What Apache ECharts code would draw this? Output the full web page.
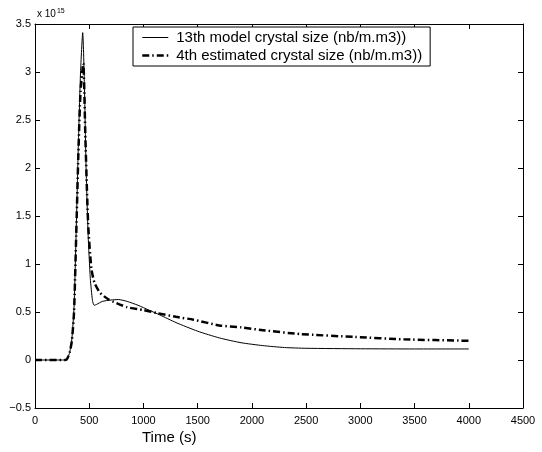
<!DOCTYPE html>
<html>
<head>
<meta charset="utf-8">
<script src="https://cdn.jsdelivr.net/npm/echarts@6/dist/echarts.min.js"></script>
<style>
html, body { margin: 0; padding: 0; background: #fff; }
#chart_1 { width: 542px; height: 452px; }
</style>
</head>
<body>
<div id="chart_1"></div>
<script>
// 数据 (单位 1e15)
var modelTime = [0, 280, 300, 320, 340, 360, 380, 400, 420, 440, 455, 470, 490, 510, 530, 545, 570, 620, 700, 770, 850, 950, 1050, 1150, 1300, 1500, 1700, 1900, 2100, 2300, 2500, 3000, 3500, 4000];
var modelSize = [0, 0, 0.02, 0.08, 0.22, 0.55, 1.35, 2.25, 3.0, 3.41, 2.9, 2.05, 1.3, 0.85, 0.62, 0.57, 0.58, 0.61, 0.625, 0.63, 0.61, 0.57, 0.52, 0.47, 0.39, 0.3, 0.23, 0.18, 0.15, 0.13, 0.122, 0.117, 0.115, 0.115];

var estTime = [0, 280, 300, 320, 340, 360, 380, 400, 420, 445, 465, 490, 520, 550, 600, 680, 850, 1000, 1120, 1300, 1460, 1700, 1900, 2100, 2450, 2950, 3400, 4000];
var estSize = [0, 0, 0.02, 0.08, 0.2, 0.5, 1.3, 2.15, 2.8, 3.09, 2.3, 1.42, 0.95, 0.8, 0.7, 0.63, 0.55, 0.52, 0.49, 0.45, 0.42, 0.36, 0.34, 0.31, 0.27, 0.24, 0.215, 0.2];

var xTicks = [0, 500, 1000, 1500, 2000, 2500, 3000, 3500, 4000, 4500];
var yTicks = [-0.5, 0, 0.5, 1, 1.5, 2, 2.5, 3, 3.5];

var modelName = '13th model crystal size (nb/m.m3))';
var estName = '4th estimated crystal size (nb/m.m3))';

function pairs(xs, ys) {
	var out = [];
	for (var i = 0; i < xs.length; i++) {
		out.push([xs[i], ys[i]]);
	}
	return out;
}

function fmtY(v) {
	return String(v).replace('-', '\u2212');
}

function fmtX(v) {
	return String(v);
}

var FONT = 'Liberation Sans, Arial, Helvetica, sans-serif';

var axisBase = {
	type: 'value',
	axisLine: { show: true, onZero: false, lineStyle: { color: '#000', width: 1 } },
	axisTick: { show: true, inside: true, length: 5, lineStyle: { color: '#000' } },
	splitLine: { show: false }
};

function mkAxis(extra) {
	var a = JSON.parse(JSON.stringify(axisBase));
	for (var k in extra) a[k] = extra[k];
	return a;
}

var option = {
	backgroundColor: '#fff',
	animation: false,
	grid: { left: 35, right: 19, top: 24, bottom: 44 },
	legend: {
		left: 133,
		top: 27,
		orient: 'vertical',
		backgroundColor: '#fff',
		borderColor: '#000',
		borderWidth: 1,
		borderRadius: 0,
		padding: [3, 8, 3, 8],
		itemGap: 3,
		itemWidth: 26,
		itemHeight: 15,
		itemStyle: { opacity: 0 },
		textStyle: { fontFamily: FONT, fontSize: 15, color: '#000', padding: [0, 0, 0, 3] },
		data: [
			{ name: modelName, lineStyle: { width: 1, color: '#000' } },
			{ name: estName, lineStyle: { width: 2.5, color: '#000', type: [7, 3, 1.5, 3] } }
		]
	},
	xAxis: [
		mkAxis({
			min: 0, max: 4500, interval: 500, position: 'bottom',
			axisLabel: { color: '#000', fontFamily: FONT, fontSize: 11, margin: 7, formatter: fmtX }
		}),
		mkAxis({
			min: 0, max: 4500, interval: 500, position: 'top',
			axisLabel: { show: false }
		})
	],
	yAxis: [
		mkAxis({
			min: -0.5, max: 3.5, interval: 0.5, position: 'left',
			axisLabel: { color: '#000', fontFamily: FONT, fontSize: 11, margin: 4, formatter: fmtY }
		}),
		mkAxis({
			min: -0.5, max: 3.5, interval: 0.5, position: 'right',
			axisLabel: { show: false }
		})
	],
	graphic: [
		{
			type: 'text', left: 37, top: 8,
			style: {
				text: '{a|x 10}{b|15}',
				rich: {
					a: { fontFamily: FONT, fontSize: 10, fill: '#000' },
					b: { fontFamily: FONT, fontSize: 7, fill: '#000', verticalAlign: 'top', padding: [0, 0, 6, 1] }
				}
			}
		},
		{
			type: 'text', left: 142, top: 430,
			style: { text: 'Time (s)', fontFamily: FONT, fontSize: 15, fill: '#000' }
		}
	],
	series: [
		{
			name: modelName,
			type: 'line',
			symbol: 'none',
			smooth: 0.2,
			itemStyle: { color: '#000' },
			lineStyle: { color: '#000', width: 1 },
			data: pairs(modelTime, modelSize)
		},
		{
			name: estName,
			type: 'line',
			symbol: 'none',
			smooth: 0.2,
			itemStyle: { color: '#000' },
			lineStyle: { color: '#000', width: 2.5, type: [7, 3, 1.5, 3] },
			data: pairs(estTime, estSize)
		}
	]
};

var myChart = echarts.init(document.getElementById('chart_1'));
myChart.setOption(option);
</script>
</body>
</html>
